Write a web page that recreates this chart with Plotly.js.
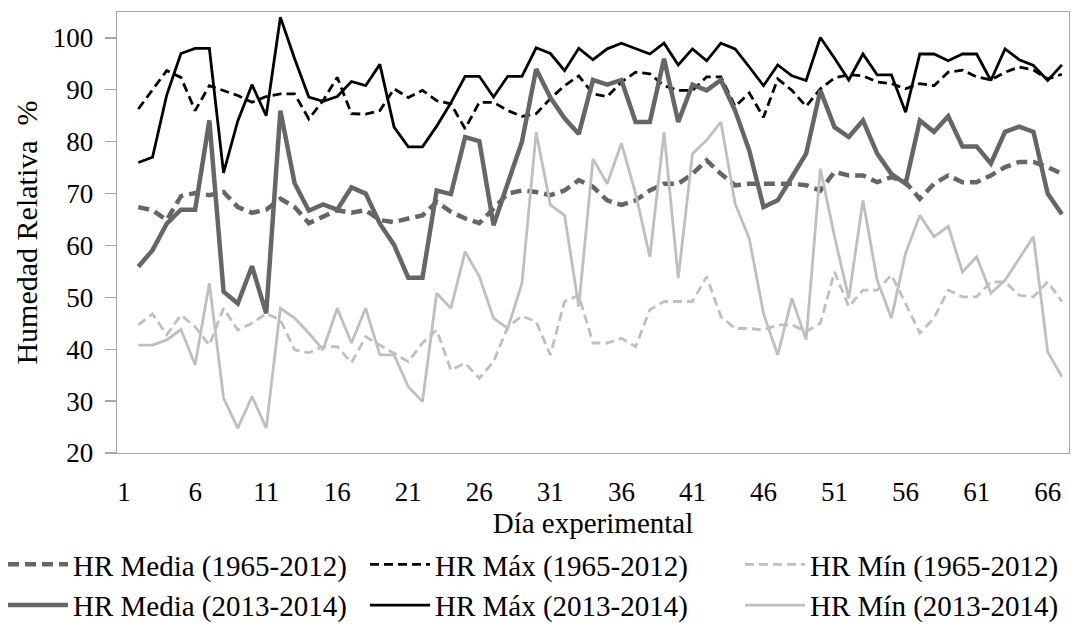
<!DOCTYPE html>
<html>
<head>
<meta charset="utf-8">
<script src="https://cdn.plot.ly/plotly-3.0.1.min.js"></script>
<style>html,body{margin:0;padding:0;background:#fff;}#chart{width:1081px;height:625px;}</style>
</head>
<body>
<div id="chart"></div>
<script>
// Experimental day (category) for each reading
const days = [2,3,4,5,6,7,8,9,10,11,12,13,14,15,16,17,18,19,20,21,22,23,24,25,26,27,28,29,30,31,32,33,34,35,36,37,38,39,40,41,42,43,44,45,46,47,48,49,50,51,52,53,54,55,56,57,58,59,60,61,62,63,64,65,66,67];

const hrMedia6512 = [67.4,66.8,64.9,69.5,70.1,69.7,70.3,67.4,66.3,66.9,69,67.4,64.3,65.5,66.8,66.3,66.8,64.9,64.5,65.2,65.8,68.4,66.5,65.2,64.3,67.1,70,70.6,70.3,69.7,70.6,72.6,71.3,68.7,67.8,68.7,70.6,71.9,71.9,73.8,76.4,73.8,71.6,71.9,71.9,71.9,71.9,71.6,70.6,74.2,73.5,73.5,72.2,73.2,72.2,69,71.9,73.5,72.2,72.2,73.5,75.1,76.1,76.1,75.1,73.8];
const hrMax6512 = [86.3,90,93.7,92.4,86,90.8,89.9,88.9,87.6,88.7,89.2,89.2,84.4,87.9,92.4,85.4,85.3,86,90.2,88.5,89.9,87.9,87.3,82.5,87.6,87.6,86,84.9,85.4,88.3,90.8,92.7,89.2,88.7,91.5,93.4,93.1,90.8,89.9,89.9,92.5,92.5,86.8,89.4,84.7,92.1,89.9,86.8,90.2,92.3,92.9,92.7,91.5,91.2,90.2,91.2,90.8,93.4,93.8,92.5,91.9,93.4,94.4,93.8,92.1,93];
const hrMin6512 = [44.7,46.8,42.8,46.6,44.3,40.8,47.9,43.7,45,46.9,45.6,39.9,39.3,40.5,40.5,37.4,42.4,40.8,39.2,37.6,41.2,43.7,36,37.3,34.4,37.6,44.3,46.4,45.3,38.9,49.2,50.4,41.2,41.2,42.1,40.5,47.6,49.2,49.2,49.2,54,46.3,44,44,43.7,44.7,44.7,43.4,45,54.9,48.2,51.4,51.4,54.3,48.8,43.1,46,51.4,50.1,50.1,53,53,50.4,50.1,53,49.2];
const hrMedia1314 = [55.9,59.1,64.2,66.9,66.9,84.1,51.1,48.8,56,46.9,86,72,66.7,67.9,66.9,71.2,70,64.2,60.1,53.8,53.8,70.6,69.9,80.9,80.1,63.9,72,80,94,88.5,84.5,81.5,91.9,91,91.9,83.8,83.8,96,83.8,91,89.9,91.9,86,78.3,67.4,68.7,73.2,77.7,89.9,82.8,80.9,84.1,77.7,73.8,71.9,84.1,81.9,84.9,79.1,79.1,75.8,81.9,82.9,81.9,70,66];
const hrMax1314 = [76,77,89,97,98,98,74,84,91,85,104,96,88.6,87.8,88.7,91.6,90.8,94.9,82.8,79,79,83,87.5,92.6,92.6,88.6,92.6,92.6,98.1,97,93.7,98,95.8,97.9,99,98,96.9,99,94.8,97.9,95.6,99,97.9,94.4,90.8,94.8,92.7,91.8,100.1,96.1,91.9,96.9,92.9,92.9,85.7,96.9,96.9,95.6,96.9,96.9,91.8,97.9,95.8,94.7,91.8,94.8];
const hrMin1314 = [40.8,40.8,41.8,43.8,37,52.7,30.6,24.8,30.9,24.8,47.9,46,43.1,39.9,47.9,41.2,47.9,38.9,38.9,32.8,29.9,50.8,47.9,58.8,54,46,44,52.7,81.8,67.8,65.8,48.2,76.7,71.9,79.7,70,57.8,81.8,53.7,77.7,80.3,83.8,68.1,61.3,46.9,38.9,49.8,41.8,74.8,61.7,49.8,68.7,53.3,46,58.5,65.8,61.7,63.7,54.9,57.8,50.8,53.3,57.5,61.7,39.5,34.7];

const seriesNames = ['HR Media (1965-2012)','HR Máx (1965-2012)','HR Mín (1965-2012)','HR Media (2013-2014)','HR Máx (2013-2014)','HR Mín (2013-2014)'];
const xTickVals = [1,6,11,16,21,26,31,36,41,46,51,56,61,66];
const xTickText = ['1','6','11','16','21','26','31','36','41','46','51','56','61','66'];
const yTickVals = [20,30,40,50,60,70,80,90,100];

const DARK = '#666666', BLACK = '#000000', LIGHT = '#bfbfbf';
const FONT = 'Liberation Serif, Times New Roman, serif';
const LEGFONT = {family: FONT, size: 29, color: '#000'};

function tr(y, name, color, width, dash, legendId) {
  return {x: days, y: y, name: name, type: 'scatter', mode: 'lines', legend: legendId,
          line: {color: color, width: width, dash: dash}, hoverinfo: 'skip'};
}

// three legend columns: Media | Máx | Mín ; rows: 1965-2012 then 2013-2014
const data = [
  tr(hrMedia6512, seriesNames[0], DARK, 4.5, '11px,6px', 'legend'),
  tr(hrMax6512, seriesNames[1], BLACK, 2.8, '9px,5px', 'legend2'),
  tr(hrMin6512, seriesNames[2], LIGHT, 2.8, '9px,5px', 'legend3'),
  tr(hrMedia1314, seriesNames[3], DARK, 4.5, 'solid', 'legend'),
  tr(hrMax1314, seriesNames[4], BLACK, 2.8, 'solid', 'legend2'),
  tr(hrMin1314, seriesNames[5], LIGHT, 2.8, 'solid', 'legend3')
];

const PL = 117, PW = 952, PB = 453, PH = 441;
const colX = [3, 365, 740];
const legTop = 539;
function leg(col) {
  return {xref: 'paper', yref: 'paper', x: (colX[col] - PL) / PW, y: (PB - legTop) / PH,
          xanchor: 'left', yanchor: 'top', orientation: 'v', font: LEGFONT, traceorder: 'normal',
          itemwidth: 60, tracegroupgap: 0, bgcolor: 'rgba(0,0,0,0)', borderwidth: 0};
}

const layout = {
  width: 1081, height: 625,
  margin: {l: 117, r: 12, t: 12, b: 172, autoexpand: false},
  paper_bgcolor: '#ffffff', plot_bgcolor: '#ffffff',
  font: {family: FONT, size: 27, color: '#000'},
  showlegend: true,
  legend: leg(0), legend2: leg(1), legend3: leg(2),
  xaxis: {
    range: [0.5, 67.5], tickmode: 'array', tickvals: xTickVals, ticktext: xTickText,
    showgrid: false, zeroline: false, showline: true, linecolor: '#a6a6a6', linewidth: 1.3,
    mirror: true, ticks: '', ticklabelstandoff: 14,
    tickfont: {family: FONT, size: 27, color: '#000'},
    title: {text: 'Día experimental', font: {family: FONT, size: 29, color: '#000'}, standoff: 0}
  },
  yaxis: {
    range: [20, 105], tickmode: 'array', tickvals: yTickVals,
    showgrid: false, zeroline: false, showline: true, linecolor: '#a6a6a6', linewidth: 1.3,
    mirror: true, ticks: 'outside', ticklen: 11, tickcolor: '#a6a6a6', tickwidth: 1.3,
    ticklabelstandoff: 6,
    tickfont: {family: FONT, size: 27, color: '#000'},
    title: {text: 'Humedad Relativa\u00a0 %', font: {family: FONT, size: 30, color: '#000'}, standoff: 6}
  }
};

Plotly.newPlot('chart', data, layout, {staticPlot: true, displayModeBar: false});
</script>
</body>
</html>
